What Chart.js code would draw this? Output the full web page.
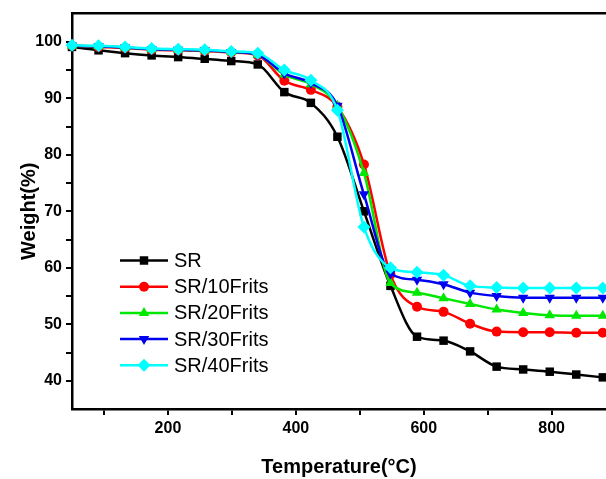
<!DOCTYPE html>
<html>
<head>
<meta charset="utf-8">
<script src="https://cdn.jsdelivr.net/npm/chart.js@4/dist/chart.umd.min.js"></script>
<style>
  html, body { margin: 0; padding: 0; background: #ffffff; }
  #wrap { width: 606px; height: 479px; position: relative; }
</style>
</head>
<body>
<div id="wrap"><canvas id="c" width="606" height="479"></canvas></div>
<script>
// ---- data ----
const temperatures = [50, 91.5, 133, 174.5, 216, 257.5, 299, 340.5, 382, 423.5, 465, 506.5, 548, 589.5, 631, 672.5, 714, 755.5, 797, 838.5, 880];
const seriesNames = ['SR', 'SR/10Frits', 'SR/20Frits', 'SR/30Frits', 'SR/40Frits'];
const srValues      = [99.1, 98.5, 98.0, 97.6, 97.3, 97.0, 96.6, 96.0, 91.1, 89.2, 83.2, 70.0, 56.8, 47.8, 47.1, 45.2, 42.5, 42.0, 41.6, 41.1, 40.6];
const frits10Values = [99.3, 99.1, 98.9, 98.6, 98.5, 98.4, 98.1, 97.6, 93.1, 91.5, 88.5, 78.3, 58.8, 53.1, 52.2, 50.1, 48.7, 48.6, 48.6, 48.5, 48.5];
const frits20Values = [99.3, 99.2, 99.0, 98.7, 98.6, 98.5, 98.2, 97.7, 94.2, 92.5, 88.7, 76.8, 57.3, 55.6, 54.6, 53.6, 52.6, 52.0, 51.6, 51.5, 51.5];
const frits30Values = [99.3, 99.2, 99.0, 98.7, 98.6, 98.5, 98.2, 97.7, 94.4, 92.7, 88.7, 73.0, 59.0, 57.9, 57.1, 55.6, 55.0, 54.7, 54.7, 54.7, 54.7];
const frits40Values = [99.4, 99.3, 99.1, 98.8, 98.7, 98.6, 98.3, 98.0, 95.0, 93.2, 87.9, 67.2, 60.0, 59.2, 58.7, 56.8, 56.5, 56.4, 56.4, 56.4, 56.4];
const xTickValues = [100, 200, 300, 400, 500, 600, 700, 800];
const xLabelValues = [200, 400, 600, 800];
const yTickValues = [40, 45, 50, 55, 60, 65, 70, 75, 80, 85, 90, 95, 100];
const yLabelValues = [40, 50, 60, 70, 80, 90, 100];

// ---- styles ----
const colors = ['#000000', '#ff0000', '#00e800', '#0000f0', '#00ffff'];
const pointStyles = ['rect', 'circle', 'triangle', 'triangle', 'rectRot'];
const pointRotations = [0, 0, 0, 180, 0];
const pointRadii = [6, 5, 6, 6, 6.5];
const allValues = [srValues, frits10Values, frits20Values, frits30Values, frits40Values];

const datasets = allValues.map((vals, i) => ({
  label: seriesNames[i],
  data: vals.map((v, j) => ({ x: temperatures[j], y: v })),
  borderColor: colors[i],
  backgroundColor: colors[i],
  borderWidth: 2.5,
  pointStyle: pointStyles[i],
  pointRotation: pointRotations[i],
  pointRadius: pointRadii[i],
  pointBorderWidth: 0,
  pointHoverRadius: pointRadii[i],
  cubicInterpolationMode: 'monotone',
  clip: false,
  order: allValues.length - i
}));

const legendPlugin = {
  id: 'innerLegend',
  afterDatasetsDraw(chart) {
    const ctx = chart.ctx;
    const ds = chart.data.datasets;
    ctx.save();
    ds.forEach((d, i) => {
      const y = 260.5 + i * 26.2;
      ctx.strokeStyle = d.borderColor;
      ctx.lineWidth = 2.5;
      ctx.beginPath();
      ctx.moveTo(120, y);
      ctx.lineTo(168, y);
      ctx.stroke();
      ctx.fillStyle = d.backgroundColor;
      ctx.strokeStyle = d.borderColor;
      if (Chart.helpers && Chart.helpers.drawPoint) {
        Chart.helpers.drawPoint(ctx, { pointStyle: d.pointStyle, rotation: d.pointRotation, radius: d.pointRadius, borderWidth: 0 }, 144, y);
      }
      ctx.fillStyle = '#000';
      ctx.font = '20px Arial, "Liberation Sans", sans-serif';
      ctx.textBaseline = 'middle';
      ctx.textAlign = 'left';
      ctx.fillText(d.label, 174, y + 1);
    });
    ctx.restore();
  }
};

const tickFont = { family: 'Arial, "Liberation Sans", sans-serif', size: 16, weight: 'bold' };
const titleFont = { family: 'Arial, "Liberation Sans", sans-serif', size: 20, weight: 'bold' };

new Chart(document.getElementById('c'), {
  type: 'line',
  data: { datasets },
  plugins: [legendPlugin],
  options: {
    responsive: false,
    animation: false,
    devicePixelRatio: 1,
    layout: { autoPadding: false, padding: 0 },
    plugins: { legend: { display: false }, tooltip: { enabled: false } },
    scales: {
      x: {
        type: 'linear',
        position: 'bottom',
        min: 50,
        max: 885,
        afterBuildTicks: s => { s.ticks = xTickValues.map(v => ({ value: v })); },
        afterFit: s => { s.height = 70; },
        ticks: {
          autoSkip: false,
          maxRotation: 0,
          color: '#000',
          font: tickFont,
          padding: 4,
          callback: v => xLabelValues.includes(v) ? String(v) : ''
        },
        grid: { display: true, drawOnChartArea: false, drawTicks: true, tickLength: 6, color: '#000', lineWidth: 2 },
        border: { display: true, color: '#000', width: 2.5 },
        title: { display: true, text: 'Temperature(°C)', color: '#000', font: titleFont, padding: { top: 0, bottom: 0 } }
      },
      xTop: {
        type: 'linear',
        position: 'top',
        min: 50,
        max: 885,
        afterFit: s => { s.height = 11; },
        ticks: { display: false },
        grid: { display: false, drawTicks: false },
        border: { display: true, color: '#000', width: 2.5 }
      },
      y: {
        type: 'linear',
        position: 'left',
        min: 35,
        max: 105,
        afterBuildTicks: s => { s.ticks = yTickValues.map(v => ({ value: v })); },
        afterFit: s => { s.width = 72; },
        ticks: {
          autoSkip: false,
          color: '#000',
          font: tickFont,
          padding: 4,
          callback: v => yLabelValues.includes(v) ? String(v) : ''
        },
        grid: { display: true, drawOnChartArea: false, drawTicks: true, tickLength: 6, color: '#000', lineWidth: 2 },
        border: { display: true, color: '#000', width: 2.5 },
        title: { display: true, text: 'Weight(%)', color: '#000', font: titleFont, padding: { top: 17, bottom: 0 } }
      }
    }
  }
});
</script>
</body>
</html>
